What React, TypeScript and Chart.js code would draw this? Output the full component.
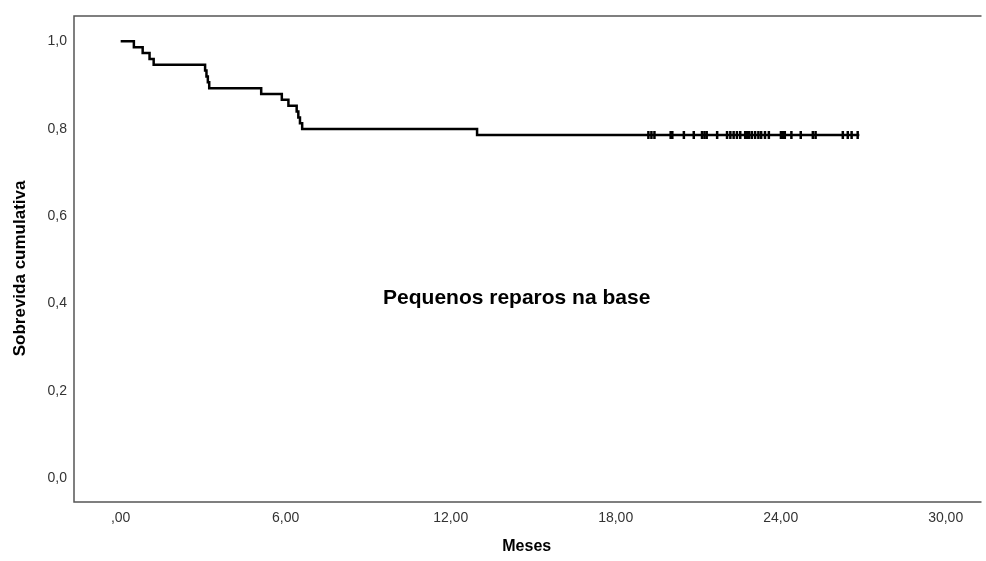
import React, { useEffect, useRef } from "react";
import { Chart, registerables } from "chart.js";

Chart.register(...registerables);

// Kaplan-Meier data (months, cumulative survival)
const eventTimes = [0, 0.48, 0.8, 1.05, 1.2, 3.07, 3.12, 3.17, 3.22, 5.11, 5.86, 6.1, 6.4, 6.46, 6.52, 6.6, 12.96];
const survivalValues = [1.0, 0.9866, 0.9732, 0.9598, 0.9464, 0.933, 0.9196, 0.9062, 0.8928, 0.8794, 0.866, 0.8526, 0.8392, 0.8258, 0.8124, 0.799, 0.7856];
const lastFollowUp = 26.86;
const censoredTimes = [
  19.19, 19.3, 19.41, 20.0, 20.06, 20.48, 20.84, 21.14, 21.23, 21.31, 21.69, 22.05, 22.17, 22.29,
  22.41, 22.53, 22.71, 22.77, 22.85, 22.95, 23.07, 23.19, 23.29, 23.43, 23.57, 24.01, 24.09, 24.15,
  24.39, 24.73, 25.17, 25.27, 26.26, 26.44, 26.58, 26.8,
];

const xTickValues = [0, 6, 12, 18, 24, 30];
const xTickLabels = [",00", "6,00", "12,00", "18,00", "24,00", "30,00"];
const yTickValues = [0, 0.2, 0.4, 0.6, 0.8, 1.0];
const yTickLabels = ["0,0", "0,2", "0,4", "0,6", "0,8", "1,0"];

const xTitle = "Meses";
const yTitle = "Sobrevida cumulativa";
const annotationText = "Pequenos reparos na base";
const annotationX = 14.4;
const annotationY = 0.412;

const FONT = "'Liberation Sans', Arial, sans-serif";

const framePlugin = {
  id: "framePlugin",
  afterDraw(chart: any) {
    const { ctx, chartArea } = chart;
    ctx.save();
    ctx.strokeStyle = "#555555";
    ctx.lineWidth = 1.5;
    ctx.beginPath();
    ctx.moveTo(chartArea.right + 2, chartArea.top);
    ctx.lineTo(chartArea.left, chartArea.top);
    ctx.lineTo(chartArea.left, chartArea.bottom);
    ctx.lineTo(chartArea.right + 2, chartArea.bottom);
    ctx.stroke();
    const xs = chart.scales.x;
    const ys = chart.scales.y;
    ctx.fillStyle = "#000000";
    ctx.font = `bold 21px ${FONT}`;
    ctx.textAlign = "center";
    ctx.textBaseline = "middle";
    ctx.fillText(annotationText, xs.getPixelForValue(annotationX), ys.getPixelForValue(annotationY));
    // y axis title
    ctx.save();
    ctx.translate(20, ys.getPixelForValue(0.48));
    ctx.rotate(-Math.PI / 2);
    ctx.font = `bold 17px ${FONT}`;
    ctx.fillText(yTitle, 0, 0);
    ctx.restore();
    ctx.restore();
  },
};

export default function App() {
  const canvasRef = useRef<HTMLCanvasElement | null>(null);

  useEffect(() => {
    document.body.style.margin = "0";
    const canvas = canvasRef.current;
    if (!canvas) return;

    const curve = eventTimes.map((t, i) => ({ x: t, y: survivalValues[i] }));
    curve.push({ x: lastFollowUp, y: survivalValues[survivalValues.length - 1] });
    const censored = censoredTimes.map((t) => ({ x: t, y: survivalValues[survivalValues.length - 1] }));

    const chart = new Chart(canvas, {
      type: "scatter",
      data: {
        datasets: [
          {
            type: "line",
            label: "Sobrevida",
            data: curve,
            stepped: "before",
            borderColor: "#000000",
            borderWidth: 2.5,
            pointRadius: 0,
            fill: false,
            tension: 0,
          } as any,
          {
            type: "scatter",
            label: "Censurado",
            data: censored,
            pointStyle: "line",
            rotation: 90,
            radius: 4,
            borderWidth: 2.5,
            borderColor: "#000000",
            backgroundColor: "#000000",
            showLine: false,
          } as any,
        ],
      },
      options: {
        animation: false,
        responsive: false,
        maintainAspectRatio: false,
        layout: { padding: { top: 16, right: 0, bottom: 0, left: 0 } },
        plugins: {
          legend: { display: false },
          tooltip: { enabled: false },
        },
        scales: {
          x: {
            type: "linear",
            min: -1.697,
            max: 31.23,
            grid: { display: false, drawTicks: false },
            border: { display: false },
            afterBuildTicks: (scale: any) => {
              scale.ticks = xTickValues.map((v) => ({ value: v }));
            },
            afterFit: (scale: any) => {
              scale.height = 59;
            },
            ticks: {
              padding: 8,
              color: "#333333",
              font: { family: FONT, size: 14 },
              maxRotation: 0,
              autoSkip: false,
              callback: (value: any) => {
                const idx = xTickValues.indexOf(Number(value));
                return idx >= 0 ? xTickLabels[idx] : "";
              },
            },
            title: {
              display: true,
              text: xTitle,
              color: "#000000",
              font: { family: FONT, size: 16, weight: "bold" },
              padding: { top: 0, bottom: 5 },
            },
          },
          y: {
            type: "linear",
            min: -0.0549,
            max: 1.058,
            grid: { display: false, drawTicks: false },
            border: { display: false },
            afterBuildTicks: (scale: any) => {
              scale.ticks = yTickValues.map((v) => ({ value: v }));
            },
            afterFit: (scale: any) => {
              scale.width = 74;
            },
            ticks: {
              padding: 7,
              color: "#333333",
              font: { family: FONT, size: 14 },
              autoSkip: false,
              callback: (value: any) => {
                const idx = yTickValues.findIndex((v) => Math.abs(v - Number(value)) < 1e-6);
                return idx >= 0 ? yTickLabels[idx] : "";
              },
            },
            title: { display: false },
          },
        },
      },
      plugins: [framePlugin],
    });

    return () => chart.destroy();
  }, []);

  return (
    <div style={{ position: "fixed", left: 0, top: 0, width: 986, height: 561 }}>
      <canvas ref={canvasRef} width={986} height={561} style={{ width: 986, height: 561, display: "block" }} />
    </div>
  );
}
